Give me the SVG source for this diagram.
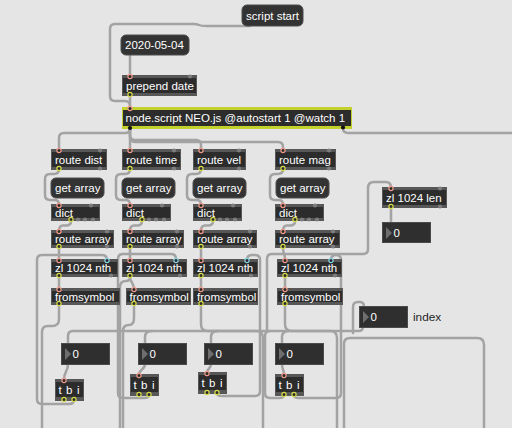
<svg xmlns="http://www.w3.org/2000/svg" width="512" height="428" viewBox="0 0 512 428">
<style>
.ob{fill:#575757}
.oi{fill:#2c2c2c}
.msg{fill:#333;stroke:#4c4c4c;stroke-width:1}
.num{fill:#2f2f2f;stroke:#4a4a4a;stroke-width:1}
.tri{fill:#6e6e6e}
.t{fill:#fff;font-family:"Liberation Sans",Arial,sans-serif;font-size:11.5px}
.tb{letter-spacing:0.6px}
.lbl{fill:#262626;font-family:"Liberation Sans",Arial,sans-serif;font-size:11.8px}
.cord{fill:none;stroke:#a3a3a3;stroke-width:2.5;stroke-linecap:round;stroke-linejoin:round}
.pi{fill:#2a2a2a;stroke:#ef9a8a;stroke-width:1.2}
.po{fill:#2a2a2a;stroke:#d5dc4a;stroke-width:1.2}
.pc{fill:#2a2a2a;stroke:#86d3e4;stroke-width:1.2}
.pu{fill:#7d7d7d}
.pk{fill:#111}
</style>
<rect width="512" height="428" fill="#e5e5e5"/>
<g id="connectors">
<path class="cord" d="M250,26 L206,26 Q201,26 199,25 Q197,24 193,24 L115,24 Q110,24 110,29 L110,96 Q110,101 115,101 L125,101 Q130,101 130,106"/>
<path class="cord" d="M130,55 L130,76"/>
<path class="cord" d="M130,95 L130,108"/>
<path class="cord" d="M130,129 Q130,133 125,133 L64,133 Q59,133 59,138 L59,150"/>
<path class="cord" d="M130,129 L130,150"/>
<path class="cord" d="M130,129 L130,135 Q130,140 135,140 L196,140 Q201,140 201,145 L201,150"/>
<path class="cord" d="M130,129 L130,137 Q130,142 135,142 L278,142 Q283,142 283,147 L283,150"/>
<path class="cord" d="M343,128 Q343,133 348,133 L512,133"/>
<path class="cord" d="M59,169 Q59,174 54,174 L50,174 Q45,174 45,179 L45,195 Q45,200 50,200 L55,200 Q59,200 59,205"/>
<path class="cord" d="M130,169 Q130,174 125,174 L121,174 Q116,174 116,179 L116,195 Q116,200 121,200 L126,200 Q130,200 130,205"/>
<path class="cord" d="M201,169 Q201,174 196,174 L192,174 Q187,174 187,179 L187,195 Q187,200 192,200 L197,200 Q201,200 201,205"/>
<path class="cord" d="M283,169 Q283,174 278,174 L275,174 Q270,174 270,179 L270,195 Q270,200 275,200 L279,200 Q283,200 283,205"/>
<path class="cord" d="M71,221 Q71,225.5 66,225.5 L63,225.5 Q59,225.5 59,231"/>
<path class="cord" d="M142,221 Q142,225.5 137,225.5 L134,225.5 Q130,225.5 130,231"/>
<path class="cord" d="M213,221 Q213,225.5 208,225.5 L205,225.5 Q201,225.5 201,231"/>
<path class="cord" d="M295,221 Q295,225.5 290,225.5 L287,225.5 Q283,225.5 283,231"/>
<path class="cord" d="M59,248 L59,260"/>
<path class="cord" d="M130,248 L130,260"/>
<path class="cord" d="M201,248 L201,260"/>
<path class="cord" d="M283,248 C283,254 285,253 285,260"/>
<path class="cord" d="M59,277 L59,289"/>
<path class="cord" d="M130,277 C130,283 134,282 134,289"/>
<path class="cord" d="M130,277 Q130,281 126,281 Q120,281 120,287 L120,428"/>
<path class="cord" d="M201,277 L201,289"/>
<path class="cord" d="M285,277 L285,289"/>
<path class="cord" d="M59,305 L59,319 Q59,326 52,326 L48,326 Q42,326 42,332 L42,428"/>
<path class="cord" d="M134,305 L134,318 Q134,325 129,325 Q123,325 123,331 L123,428"/>
<path class="cord" d="M201,305 L201,324 Q201,331 208,331 L256,331 Q263,331 263,338 L263,428"/>
<path class="cord" d="M285,305 L285,324 Q285,331 292,331 L330,331 Q337,331 337,338 L337,428"/>
<path class="cord" d="M363,327 Q363,331 358,331 L73,331 Q68,331 68,336 L68,344"/>
<path class="cord" d="M152,331 Q145,331 145,337 L145,344"/>
<path class="cord" d="M218,331 Q211,331 211,337 L211,344"/>
<path class="cord" d="M289,331 Q282,331 282,337 L282,344"/>
<path class="cord" d="M68,364 C68,372 64,371 64,380"/>
<path class="cord" d="M145,364 C145,370 139,369 139,375"/>
<path class="cord" d="M211,364 C211,369 207,368 207,373"/>
<path class="cord" d="M282,364 C282,370 284,369 284,375"/>
<path class="cord" d="M74,400 Q74,404 69,404 L42,404 Q37,404 37,399 L37,260 Q37,255 42,255 L102,255 Q107,255 107,260"/>
<path class="cord" d="M149,395 Q149,398 144,398 L123,398 Q118,398 118,393 L118,259 Q118,254 123,254 L171,254 Q176,254 176,259"/>
<path class="cord" d="M217,393 Q217,396 222,396 L255,396 Q260,396 260,391 L260,260 Q260,255 255,255 L252,255 Q247,255 247,260"/>
<path class="cord" d="M294,395 Q294,398 299,398 L336,398 Q341,398 341,393 L341,260 Q341,255 336,255 Q331,255 331,260"/>
<path class="cord" d="M284,395 Q284,398 279,398 L270,398 Q265,398 265,393 L265,336 Q265,331 270,331"/>
<path class="cord" d="M267,331 L267,259 Q267,254 272,254 L363,254 Q368,254 368,249 L368,188 Q368,182 374,182 L386,182 Q391,182 391,188"/>
<path class="cord" d="M391,208 L391,223"/>
<path class="cord" d="M353,333 L353,307 Q353,302 358,302 L360,302 Q364,302 364,307"/>
<path class="cord" d="M344,428 L344,344 Q344,338 350,338 L477,338 Q484,338 484,345 L484,428"/>
</g>

<g id="script-start"><rect class="msg" x="242" y="5" width="61" height="21" rx="5"/><text class="t" x="246" y="19.7">script start</text></g>
<g id="date-msg"><rect class="msg" x="121" y="35" width="68" height="20" rx="5"/><text class="t" x="125" y="49.2">2020-05-04</text></g>
<g id="prepend-date"><rect class="ob" x="122" y="75" width="75" height="21"/><rect class="oi" x="123" y="78" width="73" height="15"/><text class="t" x="126" y="89.7">prepend date</text><circle class="pi" cx="130" cy="76.5" r="2.1"/><circle class="pu" cx="190" cy="76.5" r="2.1"/><circle class="po" cx="130" cy="94.5" r="2.1"/></g>
<g id="node-script"><rect x="122" y="107" width="230" height="22" fill="#c3d12c"/><rect class="oi" x="123" y="110" width="228" height="16"/><text class="t" x="125.5" y="122.4">node.script NEO.js @autostart 1 @watch 1</text><circle class="pi" cx="130" cy="108.5" r="2.1"/><circle class="pk" cx="130" cy="128" r="2.1"/><circle class="pk" cx="343" cy="127.5" r="2.1"/></g>

<g id="route-dist"><rect class="ob" x="51" y="149" width="56" height="21"/><rect class="oi" x="52" y="152" width="54" height="15"/><text class="t" x="55" y="163.7">route dist</text><circle class="pi" cx="59" cy="150.5" r="2.1"/><circle class="pu" cx="100" cy="150.5" r="2.1"/><circle class="po" cx="59" cy="168.5" r="2.1"/><circle class="pu" cx="100" cy="168.5" r="2.1"/></g>
<g id="route-time"><rect class="ob" x="122" y="149" width="59" height="21"/><rect class="oi" x="123" y="152" width="57" height="15"/><text class="t" x="126" y="163.7">route time</text><circle class="pi" cx="130" cy="150.5" r="2.1"/><circle class="pu" cx="174" cy="150.5" r="2.1"/><circle class="po" cx="130" cy="168.5" r="2.1"/><circle class="pu" cx="174" cy="168.5" r="2.1"/></g>
<g id="route-vel"><rect class="ob" x="193" y="149" width="53" height="21"/><rect class="oi" x="194" y="152" width="51" height="15"/><text class="t" x="197" y="163.7">route vel</text><circle class="pi" cx="201" cy="150.5" r="2.1"/><circle class="pu" cx="239" cy="150.5" r="2.1"/><circle class="po" cx="201" cy="168.5" r="2.1"/><circle class="pu" cx="239" cy="168.5" r="2.1"/></g>
<g id="route-mag"><rect class="ob" x="275" y="149" width="61" height="21"/><rect class="oi" x="276" y="152" width="59" height="15"/><text class="t" x="279" y="163.7">route mag</text><circle class="pi" cx="283" cy="150.5" r="2.1"/><circle class="pu" cx="329" cy="150.5" r="2.1"/><circle class="po" cx="283" cy="168.5" r="2.1"/><circle class="pu" cx="329" cy="168.5" r="2.1"/></g>

<g id="get-array-dist"><rect class="msg" x="51" y="178" width="53" height="20" rx="5"/><text class="t" x="55" y="192.2">get array</text></g>
<g id="get-array-time"><rect class="msg" x="122" y="178" width="53" height="20" rx="5"/><text class="t" x="126" y="192.2">get array</text></g>
<g id="get-array-vel"><rect class="msg" x="193" y="178" width="53" height="20" rx="5"/><text class="t" x="197" y="192.2">get array</text></g>
<g id="get-array-mag"><rect class="msg" x="276" y="178" width="53" height="20" rx="5"/><text class="t" x="280" y="192.2">get array</text></g>

<g id="dict-dist"><rect class="ob" x="51" y="204" width="49" height="17"/><rect class="oi" x="52" y="207" width="47" height="11"/><text class="t" x="55" y="216.7">dict</text><circle class="pi" cx="59" cy="205.5" r="2.1"/><circle class="pu" cx="91" cy="205.5" r="2.1"/><circle class="po" cx="71" cy="219.5" r="2.1"/><circle class="pu" cx="78" cy="219.5" r="2.1"/><circle class="pu" cx="85" cy="219.5" r="2.1"/><circle class="pu" cx="93" cy="219.5" r="2.1"/></g>
<g id="dict-time"><rect class="ob" x="122" y="204" width="49" height="17"/><rect class="oi" x="123" y="207" width="47" height="11"/><text class="t" x="126" y="216.7">dict</text><circle class="pi" cx="130" cy="205.5" r="2.1"/><circle class="pu" cx="162" cy="205.5" r="2.1"/><circle class="po" cx="142" cy="219.5" r="2.1"/><circle class="pu" cx="149" cy="219.5" r="2.1"/><circle class="pu" cx="156" cy="219.5" r="2.1"/><circle class="pu" cx="164" cy="219.5" r="2.1"/></g>
<g id="dict-vel"><rect class="ob" x="193" y="204" width="49" height="17"/><rect class="oi" x="194" y="207" width="47" height="11"/><text class="t" x="197" y="216.7">dict</text><circle class="pi" cx="201" cy="205.5" r="2.1"/><circle class="pu" cx="233" cy="205.5" r="2.1"/><circle class="po" cx="213" cy="219.5" r="2.1"/><circle class="pu" cx="220" cy="219.5" r="2.1"/><circle class="pu" cx="227" cy="219.5" r="2.1"/><circle class="pu" cx="235" cy="219.5" r="2.1"/></g>
<g id="dict-mag"><rect class="ob" x="275" y="204" width="49" height="17"/><rect class="oi" x="276" y="207" width="47" height="11"/><text class="t" x="279" y="216.7">dict</text><circle class="pi" cx="283" cy="205.5" r="2.1"/><circle class="pu" cx="315" cy="205.5" r="2.1"/><circle class="po" cx="295" cy="219.5" r="2.1"/><circle class="pu" cx="302" cy="219.5" r="2.1"/><circle class="pu" cx="309" cy="219.5" r="2.1"/><circle class="pu" cx="317" cy="219.5" r="2.1"/></g>

<g id="route-array-dist"><rect class="ob" x="51" y="230" width="63" height="18"/><rect class="oi" x="52" y="233" width="61" height="12"/><text class="t" x="55" y="243.2">route array</text><circle class="pi" cx="59" cy="231.5" r="2.1"/><circle class="pu" cx="107" cy="231.5" r="2.1"/><circle class="po" cx="59" cy="246.5" r="2.1"/><circle class="pu" cx="107" cy="246.5" r="2.1"/></g>
<g id="route-array-time"><rect class="ob" x="122" y="230" width="62" height="18"/><rect class="oi" x="123" y="233" width="60" height="12"/><text class="t" x="126" y="243.2">route array</text><circle class="pi" cx="130" cy="231.5" r="2.1"/><circle class="pu" cx="177" cy="231.5" r="2.1"/><circle class="po" cx="130" cy="246.5" r="2.1"/><circle class="pu" cx="177" cy="246.5" r="2.1"/></g>
<g id="route-array-vel"><rect class="ob" x="193" y="230" width="64" height="18"/><rect class="oi" x="194" y="233" width="62" height="12"/><text class="t" x="197" y="243.2">route array</text><circle class="pi" cx="201" cy="231.5" r="2.1"/><circle class="pu" cx="250" cy="231.5" r="2.1"/><circle class="po" cx="201" cy="246.5" r="2.1"/><circle class="pu" cx="250" cy="246.5" r="2.1"/></g>
<g id="route-array-mag"><rect class="ob" x="275" y="230" width="65" height="18"/><rect class="oi" x="276" y="233" width="63" height="12"/><text class="t" x="279" y="243.2">route array</text><circle class="pi" cx="283" cy="231.5" r="2.1"/><circle class="pu" cx="333" cy="231.5" r="2.1"/><circle class="po" cx="283" cy="246.5" r="2.1"/><circle class="pu" cx="333" cy="246.5" r="2.1"/></g>

<g id="zl-nth-dist"><rect class="ob" x="51" y="259" width="67" height="18"/><rect class="oi" x="52" y="262" width="65" height="12"/><text class="t" x="55" y="272.2">zl 1024 nth</text><circle class="pi" cx="59" cy="260.5" r="2.1"/><circle class="pc" cx="107" cy="260.5" r="2.1"/><circle class="po" cx="59" cy="275.5" r="2.1"/><circle class="pu" cx="111" cy="275.5" r="2.1"/></g>
<g id="zl-nth-time"><rect class="ob" x="122" y="259" width="65" height="18"/><rect class="oi" x="123" y="262" width="63" height="12"/><text class="t" x="126" y="272.2">zl 1024 nth</text><circle class="pi" cx="130" cy="260.5" r="2.1"/><circle class="pc" cx="176" cy="260.5" r="2.1"/><circle class="po" cx="130" cy="275.5" r="2.1"/><circle class="pu" cx="180" cy="275.5" r="2.1"/></g>
<g id="zl-nth-vel"><rect class="ob" x="193" y="259" width="65" height="18"/><rect class="oi" x="194" y="262" width="63" height="12"/><text class="t" x="197" y="272.2">zl 1024 nth</text><circle class="pi" cx="201" cy="260.5" r="2.1"/><circle class="pc" cx="247" cy="260.5" r="2.1"/><circle class="po" cx="201" cy="275.5" r="2.1"/><circle class="pu" cx="251" cy="275.5" r="2.1"/></g>
<g id="zl-nth-mag"><rect class="ob" x="277" y="259" width="65" height="18"/><rect class="oi" x="278" y="262" width="63" height="12"/><text class="t" x="281" y="272.2">zl 1024 nth</text><circle class="pi" cx="285" cy="260.5" r="2.1"/><circle class="pc" cx="331" cy="260.5" r="2.1"/><circle class="po" cx="285" cy="275.5" r="2.1"/><circle class="pu" cx="335" cy="275.5" r="2.1"/></g>

<g id="fromsymbol-dist"><rect class="ob" x="51" y="288" width="69" height="17"/><rect class="oi" x="52" y="291" width="67" height="11"/><text class="t" x="55" y="300.7">fromsymbol</text><circle class="pi" cx="59" cy="289.5" r="2.1"/><circle class="po" cx="59" cy="303.5" r="2.1"/></g>
<g id="fromsymbol-time"><rect class="ob" x="126" y="288" width="65" height="17"/><rect class="oi" x="127" y="291" width="63" height="11"/><text class="t" x="129.5" y="300.7">fromsymbol</text><circle class="pi" cx="134" cy="289.5" r="2.1"/><circle class="po" cx="134" cy="303.5" r="2.1"/></g>
<g id="fromsymbol-vel"><rect class="ob" x="193" y="288" width="65" height="17"/><rect class="oi" x="194" y="291" width="63" height="11"/><text class="t" x="197" y="300.7">fromsymbol</text><circle class="pi" cx="201" cy="289.5" r="2.1"/><circle class="po" cx="201" cy="303.5" r="2.1"/></g>
<g id="fromsymbol-mag"><rect class="ob" x="277" y="288" width="66" height="17"/><rect class="oi" x="278" y="291" width="64" height="11"/><text class="t" x="281" y="300.7">fromsymbol</text><circle class="pi" cx="285" cy="289.5" r="2.1"/><circle class="po" cx="285" cy="303.5" r="2.1"/></g>

<g id="num-dist"><rect class="num" x="61.5" y="343.5" width="48" height="21"/><polygon class="tri" points="65,348 71,354 65,360"/><text class="t" x="72.5" y="358">0</text></g>
<g id="num-time"><rect class="num" x="138.5" y="343.5" width="48" height="21"/><polygon class="tri" points="142,348 148,354 142,360"/><text class="t" x="149.5" y="358">0</text></g>
<g id="num-vel"><rect class="num" x="204.5" y="343.5" width="48" height="21"/><polygon class="tri" points="208,348 214,354 208,360"/><text class="t" x="215.5" y="358">0</text></g>
<g id="num-mag"><rect class="num" x="275.5" y="343.5" width="48" height="21"/><polygon class="tri" points="279,348 285,354 279,360"/><text class="t" x="286.5" y="358">0</text></g>

<g id="tbi-dist"><rect class="ob" x="55" y="379" width="29" height="22"/><rect class="oi" x="56" y="382" width="27" height="15"/><text class="t tb" x="58.5" y="394">t b i</text><circle class="pi" cx="64" cy="380.5" r="2.1"/><circle class="po" cx="64" cy="399.5" r="2.1"/><circle class="po" cx="74" cy="399.5" r="2.1"/></g>
<g id="tbi-time"><rect class="ob" x="130" y="374" width="29" height="22"/><rect class="oi" x="131" y="377" width="27" height="15"/><text class="t tb" x="133.5" y="389">t b i</text><circle class="pi" cx="139" cy="375.5" r="2.1"/><circle class="po" cx="139" cy="394.5" r="2.1"/><circle class="po" cx="149" cy="394.5" r="2.1"/></g>
<g id="tbi-vel"><rect class="ob" x="198" y="372" width="29" height="22"/><rect class="oi" x="199" y="375" width="27" height="15"/><text class="t tb" x="201.5" y="387">t b i</text><circle class="pi" cx="207" cy="373.5" r="2.1"/><circle class="po" cx="207" cy="392.5" r="2.1"/><circle class="po" cx="217" cy="392.5" r="2.1"/></g>
<g id="tbi-mag"><rect class="ob" x="275" y="374" width="29" height="22"/><rect class="oi" x="276" y="377" width="27" height="15"/><text class="t tb" x="278.5" y="389">t b i</text><circle class="pi" cx="284" cy="375.5" r="2.1"/><circle class="po" cx="284" cy="394.5" r="2.1"/><circle class="po" cx="294" cy="394.5" r="2.1"/></g>

<g id="zl-len"><rect class="ob" x="382" y="187" width="65" height="21"/><rect class="oi" x="383" y="190" width="63" height="15"/><text class="t" x="386" y="201.7">zl 1024 len</text><circle class="pi" cx="391" cy="188.5" r="2.1"/><circle class="pu" cx="440" cy="188.5" r="2.1"/><circle class="po" cx="391" cy="206.5" r="2.1"/><circle class="pu" cx="440" cy="206.5" r="2.1"/></g>
<g id="num-len"><rect class="num" x="382.5" y="222.5" width="48" height="20"/><polygon class="tri" points="386,227 392,233 386,239"/><text class="t" x="393.5" y="236.7">0</text></g>
<g id="num-index"><rect class="num" x="359.5" y="306.5" width="48" height="21"/><polygon class="tri" points="363,311 369,317 363,323"/><text class="t" x="370.5" y="321">0</text><text class="lbl" x="413" y="320.7">index</text></g>
</svg>
